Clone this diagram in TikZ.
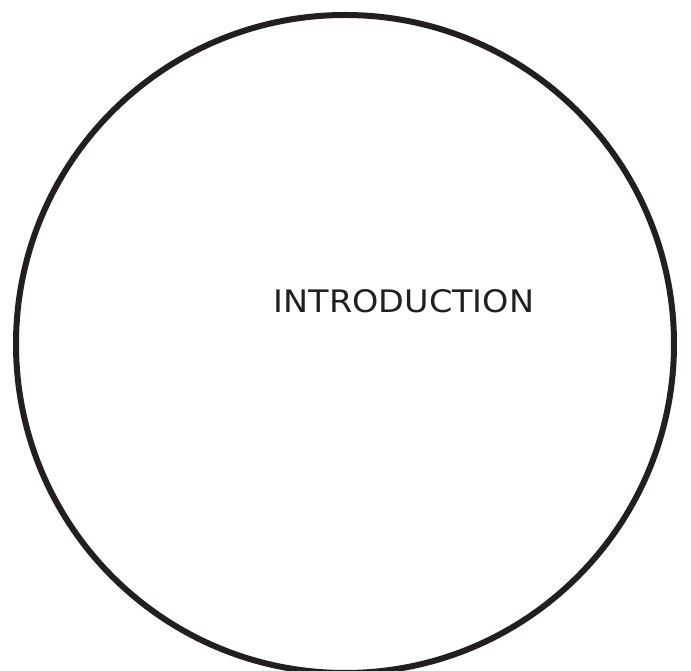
\documentclass[tikz,border=0pt]{standalone}
\usepackage{fontspec}
\setmainfont{DejaVu Sans}
\usepackage{xcolor}
\usepackage{tikz}
\usetikzlibrary{positioning}
\definecolor{ink}{RGB}{35,31,32}

\begin{document}
\begin{tikzpicture}[
  x=1pt, y=1pt,
  ring/.style={circle, draw=ink, line width=6pt, minimum size=658pt, inner sep=0pt},
  topic/.style={font=\fontsize{31}{31}\selectfont, text=ink, inner sep=0pt, xscale=1.08}
]
\useasboundingbox (0,0) rectangle (691,671);
\node[ring] (circ) at (345,327) {};
\node[topic, anchor=base] (intro) at (404,358) {INTRODUCTION};
\end{tikzpicture}
\end{document}
